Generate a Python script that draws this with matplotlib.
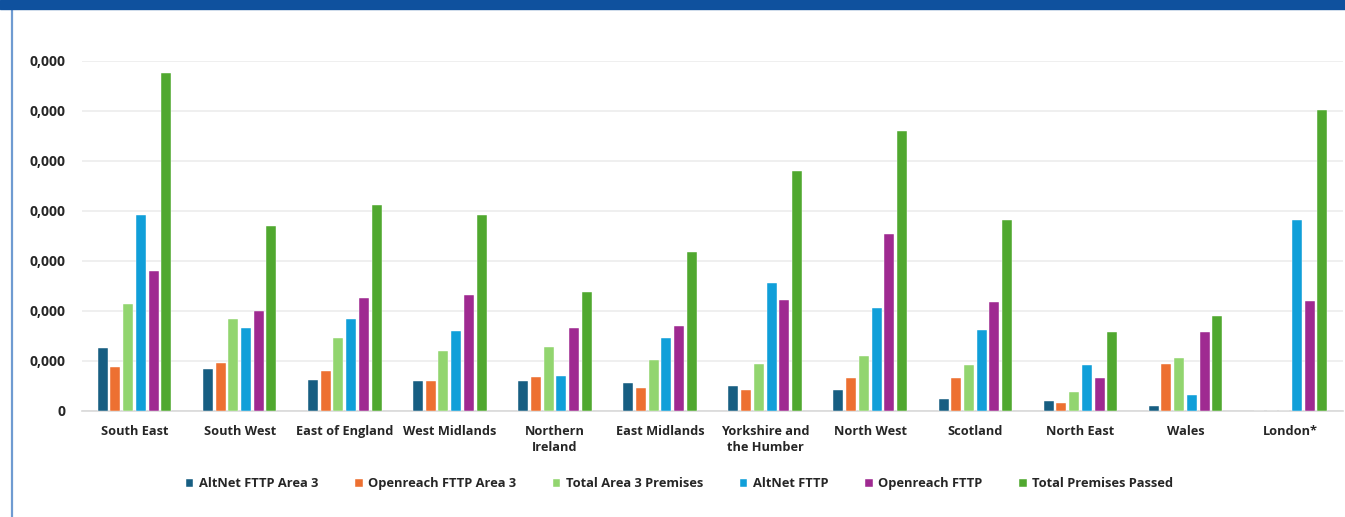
import matplotlib.pyplot as plt
import numpy as np
from matplotlib.patches import Rectangle
from matplotlib.lines import Line2D

# values (premises)
regions = ["South East", "South West", "East of England", "West Midlands",
           "Northern\nIreland", "East Midlands", "Yorkshire and\nthe Humber",
           "North West", "Scotland", "North East", "Wales", "London*"]

altnet_area3 = [127000, 85000, 63000, 61000, 61000, 57000, 50000, 43000, 24000, 20000, 10000, 0]
openreach_area3 = [89000, 97000, 81000, 61000, 69000, 46000, 43000, 66000, 66000, 16000, 95000, 0]
total_area3 = [215000, 185000, 147000, 120000, 129000, 103000, 95000, 110000, 92000, 38000, 107000, 0]
altnet_fttp = [393000, 167000, 184000, 161000, 71000, 146000, 257000, 207000, 163000, 92000, 32000, 382000]
openreach_fttp = [281000, 201000, 227000, 233000, 166000, 170000, 223000, 354000, 219000, 66000, 159000, 221000]
total_passed = [676000, 371000, 413000, 393000, 239000, 318000, 481000, 560000, 383000, 159000, 190000, 602000]

series_names = ["AltNet FTTP Area 3", "Openreach FTTP Area 3", "Total Area 3 Premises",
                "AltNet FTTP", "Openreach FTTP", "Total Premises Passed"]
colors = ["#175e82", "#ed7031", "#92d56f", "#109fd9", "#9f2a91", "#50a82f"]

y_ticks = [0, 100000, 200000, 300000, 400000, 500000, 600000, 700000]
y_labels = ["0", "0,000", "0,000", "0,000", "0,000", "0,000", "0,000", "0,000"]

plt.rcParams['font.family'] = ['Open Sans', 'DejaVu Sans']

fig = plt.figure(figsize=(13.45, 5.17), dpi=100)

# header band and left frame line
fig.patches.append(Rectangle((0, 1 - 9 / 517), 1, 9 / 517, transform=fig.transFigure,
                             color="#0f519e", zorder=5))
fig.add_artist(Line2D([11.5 / 1345, 11.5 / 1345], [0, 1 - 9 / 517], transform=fig.transFigure,
                      color="#6f9bd1", lw=1.6))

ax = fig.add_axes([82 / 1345, 106 / 517, 12 * 105.1 / 1345, 350 / 517])

data = [altnet_area3, openreach_area3, total_area3, altnet_fttp, openreach_fttp, total_passed]
x = np.arange(len(regions))
pitch = 0.121
width = 0.095
for i, (vals, name, c) in enumerate(zip(data, series_names, colors)):
    ax.bar(x + (i - 2.5) * pitch, vals, width, color=c, label=name,
           edgecolor="white", linewidth=0.3, zorder=3)

ax.set_xlim(-0.5, len(regions) - 0.5)
ax.set_ylim(0, 700000)
ax.set_yticks(y_ticks)
ax.set_yticklabels(y_labels)
ax.set_xticks(x)
ax.set_xticklabels(regions, fontweight="bold", fontsize=9.2, color="#262626", linespacing=1.35)
for lab in ax.get_yticklabels():
    lab.set_fontweight("bold")
    lab.set_fontsize(10)
    lab.set_color("#262626")

ax.grid(axis="y", color="#ececec", linewidth=1.2, zorder=0)
ax.tick_params(axis="both", length=0)
ax.tick_params(axis="y", pad=12)
ax.tick_params(axis="x", pad=10)
for s in ["top", "right", "left"]:
    ax.spines[s].set_visible(False)
ax.spines["bottom"].set_color("#d9d9d9")
ax.spines["bottom"].set_linewidth(1.2)

fig.legend(loc="center", bbox_to_anchor=(0.5055, 0.064), ncol=6, frameon=False,
           handlelength=0.55, handleheight=0.55, handletextpad=0.45, columnspacing=2.85,
           prop={"weight": "bold", "size": 9.3})
for t in fig.legends[0].get_texts():
    t.set_color("#262626")

fig.savefig("out.png", dpi=100)
